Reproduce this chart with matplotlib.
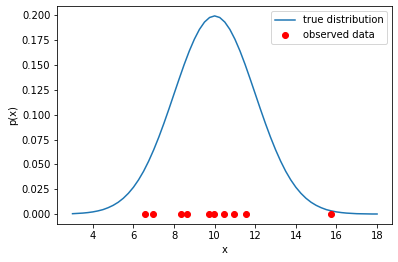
import matplotlib
matplotlib.use("Agg")
import matplotlib.pyplot as plt

# true distribution curve
x_curve = [3.0 + 0.25 * i for i in range(61)]
half = [0.0004, 0.0007, 0.0010, 0.0015, 0.0022, 0.0032, 0.0045, 0.0064,
        0.0088, 0.0119, 0.0159, 0.0209, 0.0270, 0.0344, 0.0431, 0.0533,
        0.0648, 0.0775, 0.0913, 0.1059, 0.1210, 0.1360, 0.1506, 0.1641,
        0.1760, 0.1859, 0.1933, 0.1979]
p_curve = half + [0.1995] + half[::-1] + [0.0003, 0.0002, 0.0001, 0.0001]
p_curve = p_curve[:61]

# observed data
x_obs = [6.58, 6.94, 8.35, 8.66, 9.74, 9.99, 10.48, 10.93, 11.52, 15.75]
y_obs = [0.0] * len(x_obs)

fig = plt.figure(figsize=(398 / 72, 262 / 72), dpi=72)
ax = fig.add_axes([57.3 / 398, 1 - 224 / 262, (392.3 - 57.3) / 398, (224 - 6) / 262])
ax.plot(x_curve, p_curve, label="true distribution")
ax.plot(x_obs, y_obs, "ro", label="observed data")
ax.set_xlabel("x")
ax.set_ylabel("p(x)")
ax.legend(loc="upper right")
fig.savefig("out.png", dpi=72)
